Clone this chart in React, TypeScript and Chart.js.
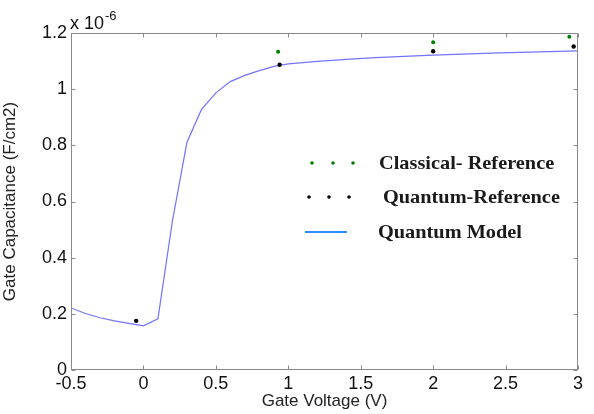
import React, { useEffect, useRef } from 'react';
import { Chart, registerables } from 'chart.js';

Chart.register(...registerables);

// Capacitance values in units of 1e-6 F/cm2
const modelVoltage = [-0.5, -0.4, -0.3, -0.2, -0.1, 0, 0.1, 0.2, 0.3, 0.4, 0.5, 0.6, 0.7, 0.8, 0.9, 1.0, 1.2, 1.4, 1.6, 1.8, 2.0, 2.2, 2.4, 2.6, 2.8, 3.0];
const modelCap = [0.221, 0.201, 0.186, 0.175, 0.166, 0.157, 0.182, 0.53, 0.81, 0.927, 0.987, 1.027, 1.049, 1.066, 1.081, 1.09, 1.099, 1.106, 1.112, 1.117, 1.121, 1.125, 1.128, 1.131, 1.134, 1.136];
const classicalVoltage = [0.93, 2.0, 2.94];
const classicalCap = [1.133, 1.167, 1.187];
const quantumVoltage = [-0.05, 0.94, 2.0, 2.97];
const quantumCap = [0.175, 1.087, 1.135, 1.152];
const xTicks = [-0.5, 0, 0.5, 1, 1.5, 2, 2.5, 3];
const yTicks = [0, 0.2, 0.4, 0.6, 0.8, 1, 1.2];
const labels = ['Classical- Reference', 'Quantum-Reference', 'Quantum Model'];

const AXIS = '#8a8a8a';
const SANS = '"Liberation Sans", Arial, sans-serif';
const SERIF = '"Liberation Serif", "Times New Roman", serif';

const fmt = (v: number) => String(Math.round(v * 10) / 10);

const stretchText = (ctx: any, text: string, x: number, y: number, sx: number) => {
  ctx.save();
  ctx.translate(x, y);
  ctx.scale(sx, 1);
  ctx.fillText(text, 0, 0);
  ctx.restore();
};

const framePlugin = {
  id: 'frame',
  afterDatasetsDraw(chart: any) {
    const { ctx, chartArea: a, scales } = chart;
    const xs = scales.x;
    const ys = scales.y;
    ctx.save();
    ctx.strokeStyle = AXIS;
    ctx.lineWidth = 1;
    const L = Math.round(a.left) + 0.5;
    const R = Math.round(a.right) - 0.5;
    const T = Math.round(a.top) + 0.5;
    const B = Math.round(a.bottom) - 0.5;
    ctx.beginPath();
    ctx.rect(L, T, R - L, B - T);
    ctx.stroke();
    const tl = 4;
    ctx.beginPath();
    xTicks.forEach((v) => {
      const px = Math.round(xs.getPixelForValue(v)) + 0.5;
      ctx.moveTo(px, B);
      ctx.lineTo(px, B - tl);
      ctx.moveTo(px, T);
      ctx.lineTo(px, T + tl);
    });
    yTicks.forEach((v) => {
      const py = Math.round(ys.getPixelForValue(v)) + 0.5;
      ctx.moveTo(L, py);
      ctx.lineTo(L + tl, py);
      ctx.moveTo(R, py);
      ctx.lineTo(R - tl, py);
    });
    ctx.stroke();

    // exponent label
    ctx.fillStyle = '#111';
    ctx.textBaseline = 'alphabetic';
    ctx.textAlign = 'left';
    ctx.font = `18px ${SANS}`;
    ctx.fillText('x 10', a.left - 1, a.top - 4);
    ctx.font = `13px ${SANS}`;
    ctx.fillText('-6', a.left + 34, a.top - 13);

    // legend
    const ds = chart.data.datasets;
    const lx = a.left + 234;
    const rows = [a.top + 130, a.top + 164, a.top + 199];
    const sx = 1.07;
    ctx.font = `bold 19px ${SERIF}`;
    ctx.textBaseline = 'middle';
    // row 1: classical dots
    ctx.fillStyle = ds[0].backgroundColor;
    [0, 21, 41].forEach((dx) => {
      ctx.beginPath();
      ctx.arc(lx + 7 + dx, rows[0], 1.8, 0, Math.PI * 2);
      ctx.fill();
    });
    ctx.fillStyle = '#1a1a1a';
    stretchText(ctx, labels[0], lx + 74, rows[0] + 1, sx);
    // row 2: quantum ref dots
    ctx.fillStyle = ds[1].backgroundColor;
    [0, 20, 40].forEach((dx) => {
      ctx.beginPath();
      ctx.arc(lx + 4 + dx, rows[1], 1.8, 0, Math.PI * 2);
      ctx.fill();
    });
    ctx.fillStyle = '#1a1a1a';
    stretchText(ctx, labels[1], lx + 78, rows[1] + 1, sx);
    // row 3: line
    ctx.strokeStyle = '#2f8cff';
    ctx.lineWidth = 2;
    ctx.beginPath();
    ctx.moveTo(lx, rows[2]);
    ctx.lineTo(lx + 42, rows[2]);
    ctx.stroke();
    ctx.fillStyle = '#1a1a1a';
    stretchText(ctx, labels[2], lx + 73, rows[2] + 1, sx);
    ctx.restore();
  },
};

export default function App() {
  const ref = useRef<HTMLCanvasElement>(null);
  useEffect(() => {
    document.body.style.margin = '0';
    const canvas = ref.current;
    if (!canvas) return;
    const chart = new Chart(canvas, {
      type: 'scatter',
      data: {
        datasets: [
          {
            label: labels[0],
            data: classicalVoltage.map((x, i) => ({ x, y: classicalCap[i] })),
            backgroundColor: '#008000',
            borderColor: '#008000',
            pointRadius: 2,
            pointBorderWidth: 0,
            showLine: false,
          },
          {
            label: labels[1],
            data: quantumVoltage.map((x, i) => ({ x, y: quantumCap[i] })),
            backgroundColor: '#000000',
            borderColor: '#000000',
            pointRadius: 2.2,
            pointBorderWidth: 0,
            showLine: false,
          },
          {
            label: labels[2],
            data: modelVoltage.map((x, i) => ({ x, y: modelCap[i] })),
            borderColor: 'rgb(115,115,255)',
            backgroundColor: 'rgb(115,115,255)',
            borderWidth: 1.2,
            pointRadius: 0,
            showLine: true,
            tension: 0,
          },
        ],
      },
      options: {
        animation: false,
        responsive: false,
        devicePixelRatio: 1,
        layout: { padding: { top: 33, right: 16, left: 0, bottom: 0 } },
        plugins: { legend: { display: false }, tooltip: { enabled: false } },
        scales: {
          x: {
            type: 'linear',
            min: -0.5,
            max: 3,
            grid: { display: false, drawTicks: false },
            border: { display: false },
            afterBuildTicks: (s: any) => {
              s.ticks = xTicks.map((v) => ({ value: v }));
            },
            afterFit: (s: any) => {
              s.height = 44;
            },
            ticks: {
              padding: 3,
              color: '#111',
              maxRotation: 0,
              autoSkip: false,
              font: { family: SANS, size: 18 },
              callback: (v: any) => fmt(Number(v)),
            },
            title: {
              display: true,
              text: 'Gate Voltage (V)',
              color: '#222',
              font: { family: SANS, size: 17 },
              padding: { top: 0, bottom: 2 },
            },
          },
          y: {
            type: 'linear',
            min: 0,
            max: 1.2,
            grid: { display: false, drawTicks: false },
            border: { display: false },
            afterBuildTicks: (s: any) => {
              s.ticks = yTicks.map((v) => ({ value: v }));
            },
            afterFit: (s: any) => {
              s.width = 71;
            },
            ticks: {
              padding: 4,
              color: '#111',
              autoSkip: false,
              font: { family: SANS, size: 18 },
              callback: (v: any) => fmt(Number(v)),
            },
            title: {
              display: true,
              text: 'Gate Capacitance (F/cm2)',
              color: '#222',
              font: { family: SANS, size: 17 },
              padding: { top: 0, bottom: 0 },
            },
          },
        },
      },
      plugins: [framePlugin],
    });
    return () => chart.destroy();
  }, []);
  return (
    <div style={{ width: 594, height: 414 }}>
      <canvas ref={ref} width={594} height={414} style={{ display: 'block' }} />
    </div>
  );
}
